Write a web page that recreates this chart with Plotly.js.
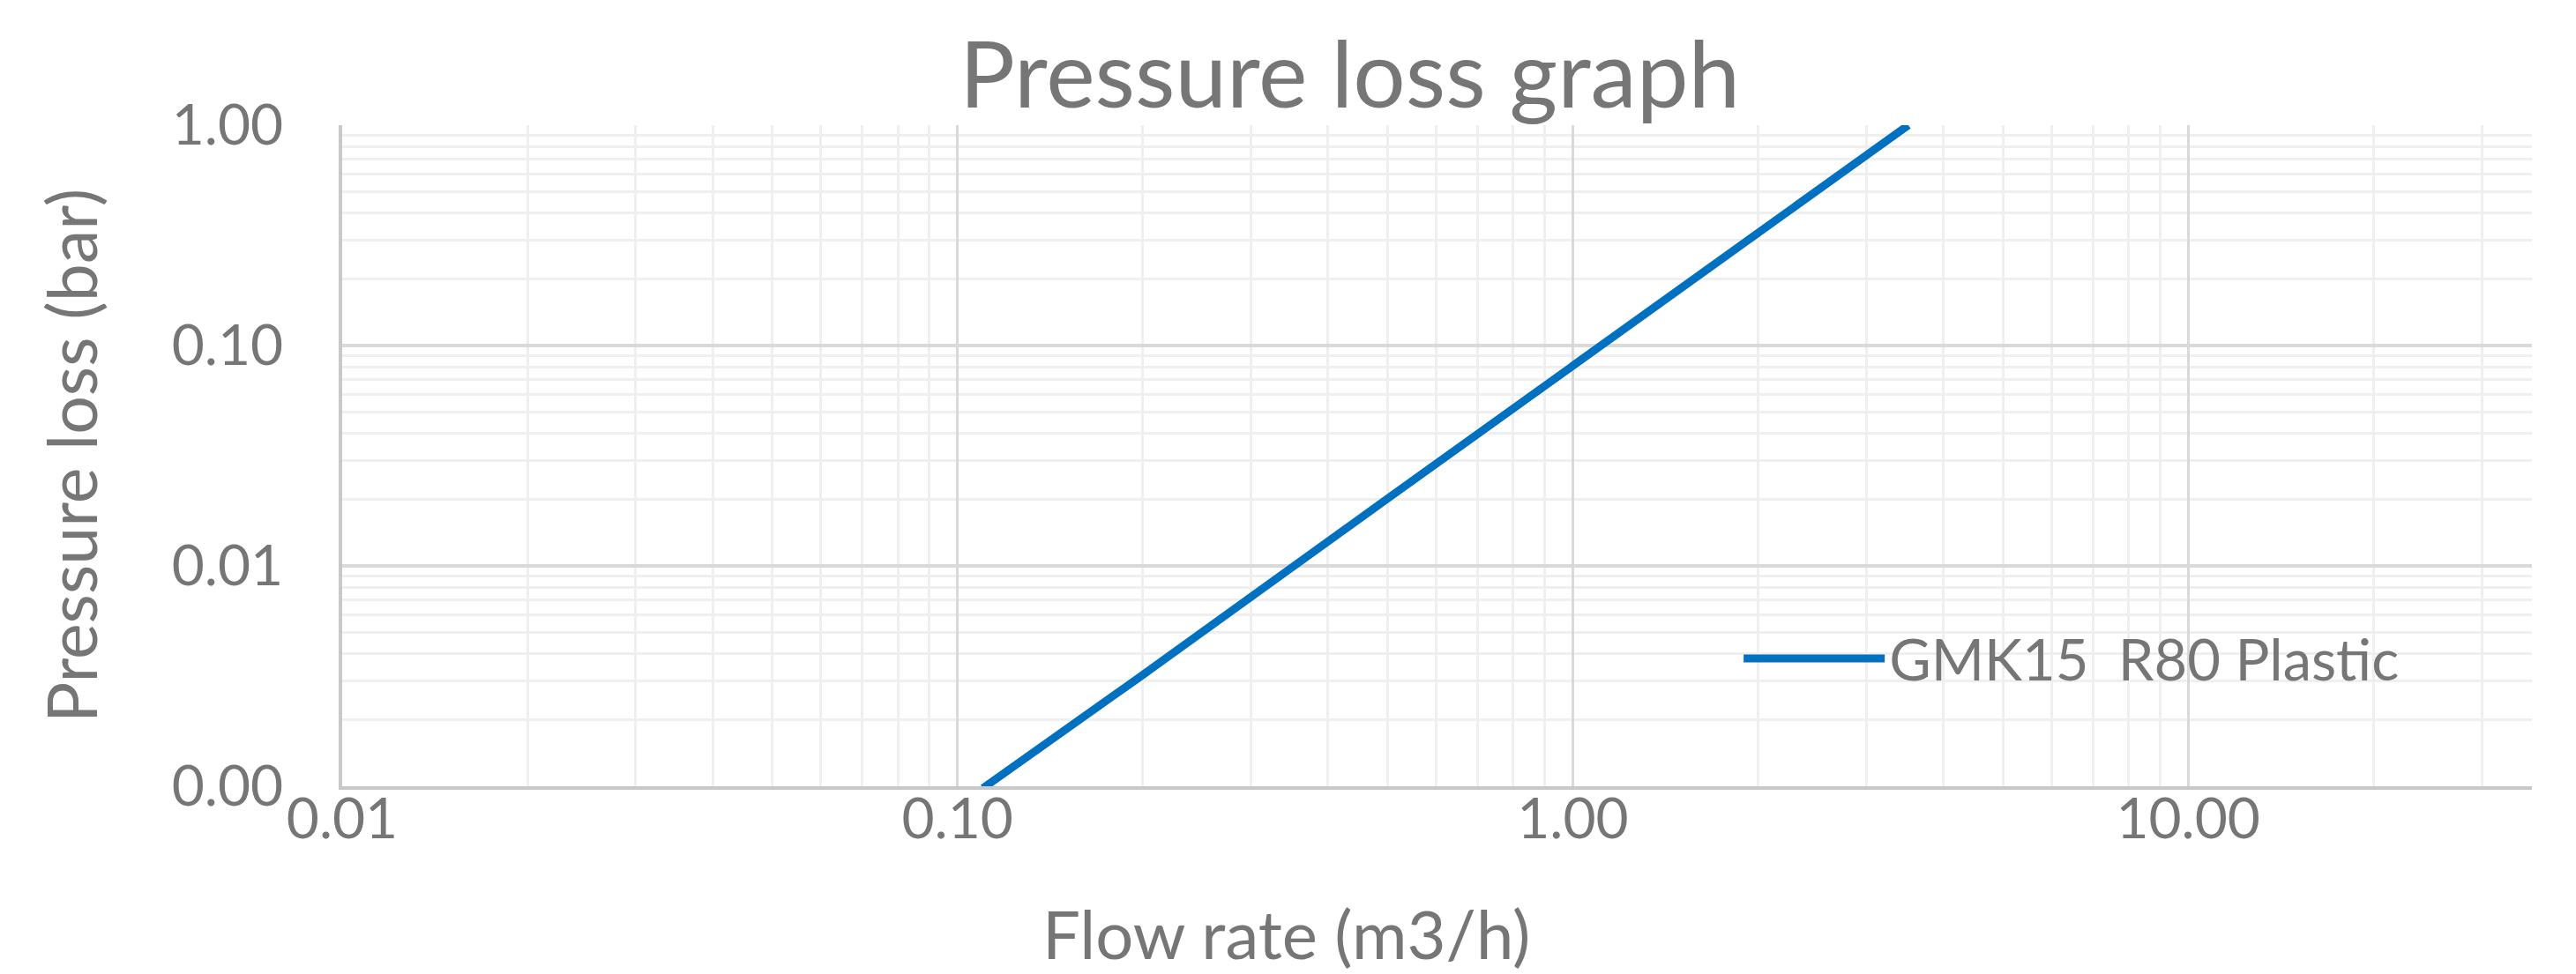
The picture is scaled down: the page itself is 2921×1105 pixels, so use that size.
<!DOCTYPE html>
<html>
<head>
<meta charset="utf-8">
<script src="https://cdn.plot.ly/plotly-3.0.1.min.js"></script>
<style>html,body{margin:0;padding:0;background:#fff;}#chart{width:2921px;height:1105px;}</style>
</head>
<body>
<div id="chart"></div>
<script>
// Data
const seriesName = "GMK15\u00a0 R80 Plastic";
const flowRate = [0.11, 0.2, 0.5, 1.0, 2.0, 3.51];        // m3/h
const pressureLoss = [0.00098, 0.0032, 0.0202, 0.081, 0.324, 1.0]; // bar

const xTickVals = [0.01, 0.1, 1, 10];
const xTickText = ["0.01", "0.10", "1.00", "10.00"];
const yTickVals = [0.001, 0.01, 0.1, 1];
const yTickText = ["0.00", "0.01", "0.10", "1.00"];

const chartTitle = "Pressure loss graph";
const xTitle = "Flow rate (m3/h)";
const yTitle = "Pressure loss (bar)";

const textColor = "#767676";
const fontFam = "Lato, 'Open Sans', sans-serif";

const trace = {
  x: flowRate, y: pressureLoss, type: "scatter", mode: "lines",
  name: seriesName,
  line: {color: "#0070C0", width: 9}
};

const layout = {
  width: 2921, height: 1105,
  paper_bgcolor: "#ffffff", plot_bgcolor: "#ffffff",
  margin: {l: 388, r: 50, t: 142, b: 213},
  font: {family: fontFam, color: textColor},
  title: {text: chartTitle, font: {size: 105, color: textColor, family: fontFam},
          x: 0.524, xanchor: "center", xref: "container",
          y: 0.956, yanchor: "top", yref: "container"},
  showlegend: true,
  legend: {x: 0.638, xanchor: "left", y: 0.193, yanchor: "middle",
           bgcolor: "rgba(0,0,0,0)", font: {size: 65, color: textColor, family: fontFam},
           itemwidth: 160},
  xaxis: {
    type: "log", range: [Math.log10(0.01), Math.log10(36.2)],
    tickvals: xTickVals, ticktext: xTickText, ticks: "",
    tickfont: {size: 64, color: textColor}, ticklabelstandoff: -22,
    showgrid: true, gridcolor: "#d9d9d9", gridwidth: 3,
    minor: {dtick: "D1", showgrid: true, gridcolor: "#efefef", gridwidth: 2.5, ticks: ""},
    showline: true, linecolor: "#c8c8c8", linewidth: 4,
    zeroline: false
  },
  yaxis: {
    type: "log", range: [Math.log10(0.001), Math.log10(1)],
    tickvals: yTickVals, ticktext: yTickText, ticks: "",
    tickfont: {size: 64, color: textColor}, ticklabelstandoff: 50,
    showgrid: true, gridcolor: "#d9d9d9", gridwidth: 4,
    minor: {dtick: "D1", showgrid: true, gridcolor: "#efefef", gridwidth: 3, ticks: ""},
    showline: true, linecolor: "#c8c8c8", linewidth: 4,
    zeroline: false
  },
  annotations: [
    {text: xTitle, xref: "paper", yref: "paper", x: (1458 - 388) / 2483, y: (892 - 1058) / 750,
     xanchor: "center", yanchor: "middle", showarrow: false,
     font: {size: 76, color: textColor, family: fontFam}},
    {text: yTitle, xref: "paper", yref: "paper", x: (80 - 388) / 2483, y: (892 - 517) / 750,
     xanchor: "center", yanchor: "middle", showarrow: false, textangle: -90,
     font: {size: 77, color: textColor, family: fontFam}}
  ]
};

Plotly.newPlot("chart", [trace], layout, {displayModeBar: false, responsive: false});
</script>
</body>
</html>
